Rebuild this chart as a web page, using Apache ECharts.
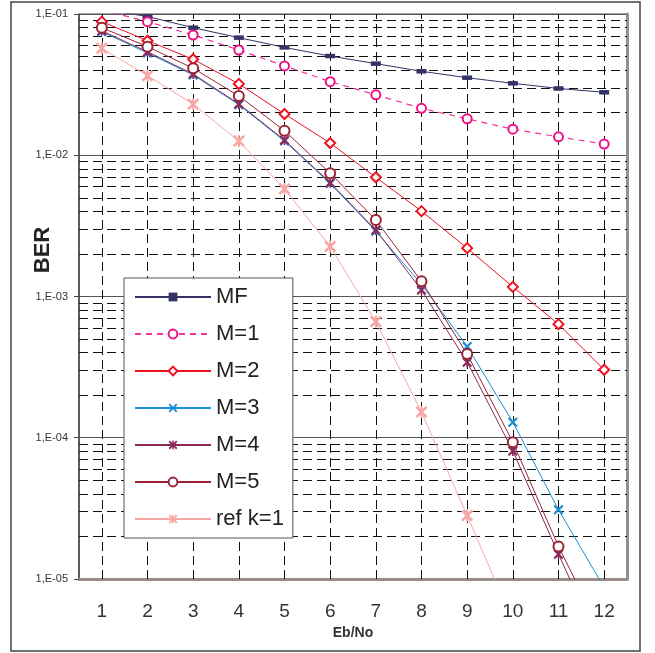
<!DOCTYPE html>
<html>
<head>
<meta charset="utf-8">
<script src="https://cdn.jsdelivr.net/npm/echarts@6/dist/echarts.min.js"></script>
<style>html,body{margin:0;padding:0;background:#fff}#c{width:655px;height:653px}</style>
</head>
<body>
<div id="c"></div>
<script>
const categories = ['1','2','3','4','5','6','7','8','9','10','11','12'];
const seriesNames = ['MF','M=1','M=2','M=3','M=4','M=5','ref k=1'];
const mf   = [0.108, 0.096, 0.080, 0.068, 0.058, 0.0504, 0.0445, 0.0393, 0.0354, 0.0323, 0.0297, 0.0279];
const m1   = [0.107, 0.0883, 0.071, 0.0556, 0.0429, 0.0332, 0.0268, 0.0215, 0.0181, 0.0153, 0.0135, 0.0120];
const m2   = [0.0883, 0.0647, 0.0478, 0.0320, 0.0196, 0.0122, 0.00698, 0.00402, 0.00220, 0.00117, 0.000637, 0.000303];
const m3   = [0.075, 0.053, 0.037, 0.0228, 0.0126, 0.0063, 0.0029, 0.00122, 0.000443, 0.000129, 3.09e-5, 8.7e-6];
const m4   = [0.076, 0.054, 0.0376, 0.0231, 0.0128, 0.0064, 0.00296, 0.00111, 0.000343, 8.07e-5, 1.50e-5, 2.9e-6];
const m5   = [0.080, 0.0587, 0.0413, 0.0263, 0.0149, 0.00746, 0.00348, 0.00128, 0.000391, 9.3e-5, 1.70e-5, 3.8e-6];
const refk = [0.0572, 0.0366, 0.0230, 0.0126, 0.00578, 0.00226, 0.000664, 0.000152, 2.81e-5, 5.0e-6];
const yDecades = [1e-5, 1e-4, 1e-3, 1e-2];
const minorMultipliers = [2,3,4,5,6,7,8,9];

const FONT = 'Liberation Sans, Arial, sans-serif';
const X_PATH = 'path://M0,1.5L1.5,0L5,3.5L8.5,0L10,1.5L6.5,5L10,8.5L8.5,10L5,6.5L1.5,10L0,8.5L3.5,5Z';
const STAR_PATH = X_PATH + 'M4.2,0L5.8,0L5.8,10L4.2,10Z';
const BAR_PATH = 'path://M0,0L20,0L20,9L0,9Z';

const minorLines = [];
yDecades.forEach(d => minorMultipliers.forEach(m => minorLines.push({yAxis: d*m})));
const vertLines = categories.map(c => ({xAxis: c}));

function mk(name, data, color, symbol, size, extra) {
  return Object.assign({
    name, type: 'line', data, z: 3,
    symbol, symbolSize: size, showSymbol: true,
    lineStyle: {color, width: 1},
    itemStyle: {color, borderColor: color, borderWidth: 2},
    emphasis: {disabled: true},
    animation: false
  }, extra || {});
}

const chart = echarts.init(document.getElementById('c'), null, {renderer: 'canvas'});
chart.setOption({
  animation: false,
  backgroundColor: '#fff',
  grid: {left: 79, right: 28, top: 14, bottom: 74, show: true, borderColor: '#444', borderWidth: 1, backgroundColor: 'transparent'},
  xAxis: {
    type: 'category', data: categories, boundaryGap: true,
    axisLine: {lineStyle: {color: '#978e8a', width: 3}},
    axisTick: {show: false, alignWithLabel: true},
    splitLine: {show: false},
    axisLabel: {color: '#333', fontSize: 19, fontFamily: FONT, margin: 23},
    name: 'Eb/No', nameLocation: 'middle', nameGap: 46,
    nameTextStyle: {color: '#333', fontSize: 14, fontWeight: 'bold', fontFamily: FONT}
  },
  yAxis: [{
    type: 'log', logBase: 10, min: 1e-5, max: 1e-1,
    axisLine: {show: true, lineStyle: {color: '#444', width: 1.5}},
    axisTick: {show: true, length: 5, lineStyle: {color: '#444'}},
    splitLine: {show: true, lineStyle: {color: '#555', width: 1}},
    axisLabel: {
      color: '#333', fontSize: 11, fontFamily: FONT, margin: 11,
      formatter: v => '1,E-' + String(Math.round(-Math.log10(v))).padStart(2, '0')
    }
  }, {
    type: 'log', logBase: 10, min: 1e-5, max: 1e-1, position: 'right',
    axisLine: {show: true, lineStyle: {color: '#978e8a', width: 3}},
    axisTick: {show: false}, axisLabel: {show: false}, splitLine: {show: false}
  }],
  legend: {
    orient: 'vertical', left: 124, top: 278,
    data: seriesNames,
    itemWidth: 76, itemHeight: 11, itemGap: 13,
    padding: [7, 9, 7, 10],
    backgroundColor: '#fff', borderColor: '#555', borderWidth: 1,
    textStyle: {color: '#222', fontSize: 22, lineHeight: 24, fontFamily: FONT},
    selectedMode: false
  },
  graphic: [
    {type: 'rect', shape: {x: 11, y: 2, width: 629, height: 649}, style: {fill: 'none', stroke: '#444', lineWidth: 1.5}, silent: true, z: -1},
    {type: 'text', x: 43, y: 250, rotation: Math.PI / 2,
     style: {text: 'BER', font: 'bold 22px ' + FONT, fill: '#222', align: 'center', verticalAlign: 'middle'}, silent: true}
  ],
  series: [
    {
      name: 'grid', type: 'line', data: [], z: 1, silent: true, animation: false,
      markLine: {
        silent: true, symbol: 'none', z: 1, animation: false, precision: 12,
        label: {show: false},
        lineStyle: {color: '#111', width: 1, type: [9, 5]},
        emphasis: {disabled: true},
        data: minorLines.concat(vertLines)
      }
    },
    mk('MF', mf, '#333366', BAR_PATH, 10, {symbolKeepAspect: true, itemStyle: {color: '#333366'}}),
    mk('M=1', m1, '#ee1188', 'emptyCircle', 9, {lineStyle: {color: '#f0339c', width: 1.2, type: [6, 5]}}),
    mk('M=2', m2, '#ee1122', 'emptyDiamond', 10),
    mk('M=3', m3, '#1a8fd8', X_PATH, 10, {itemStyle: {color: '#1a8fd8'}}),
    mk('M=4', m4, '#8b2a5a', STAR_PATH, 10, {itemStyle: {color: '#8b2a5a'}}),
    mk('M=5', m5, '#9b2335', 'emptyCircle', 10, {itemStyle: {color: '#9b2335', borderColor: '#9b2335', borderWidth: 2.5}}),
    mk('ref k=1', refk, '#f7a6a6', STAR_PATH, 12, {itemStyle: {color: '#f7a6a6'}})
  ]
});
</script>
</body>
</html>
